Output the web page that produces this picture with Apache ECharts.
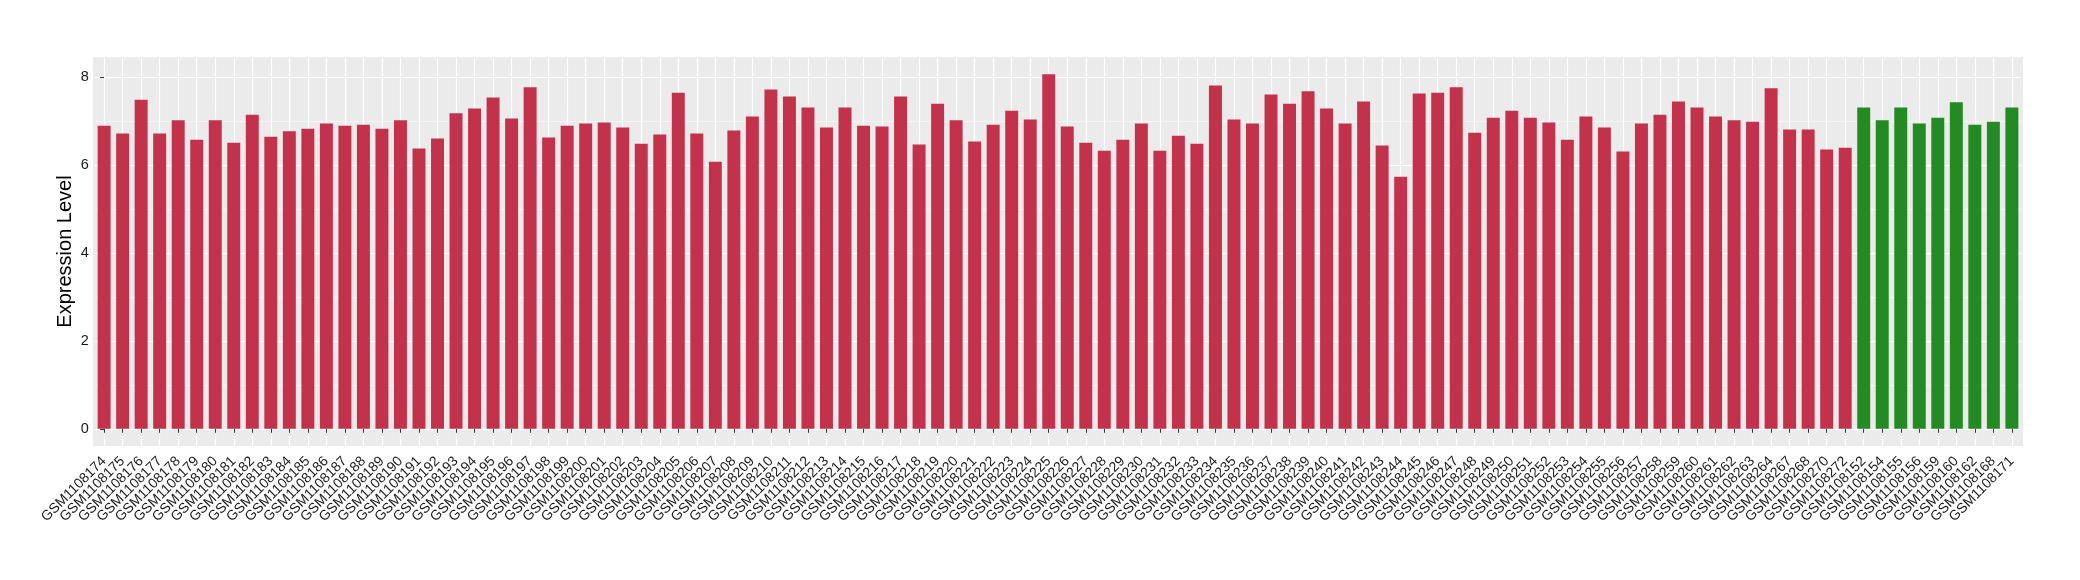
<!DOCTYPE html>
<html>
<head>
<meta charset="utf-8">
<script src="https://cdn.jsdelivr.net/npm/echarts@6/dist/echarts.min.js"></script>
<style>html,body{margin:0;padding:0;background:#fff}#c{width:2080px;height:580px}</style>
</head>
<body>
<div id="c"></div>
<script>
// ---- data ----
const tumorSamples = [
 'GSM1108174','GSM1108175','GSM1108176','GSM1108177','GSM1108178','GSM1108179','GSM1108180','GSM1108181','GSM1108182','GSM1108183',
 'GSM1108184','GSM1108185','GSM1108186','GSM1108187','GSM1108188','GSM1108189','GSM1108190','GSM1108191','GSM1108192','GSM1108193',
 'GSM1108194','GSM1108195','GSM1108196','GSM1108197','GSM1108198','GSM1108199','GSM1108200','GSM1108201','GSM1108202','GSM1108203',
 'GSM1108204','GSM1108205','GSM1108206','GSM1108207','GSM1108208','GSM1108209','GSM1108210','GSM1108211','GSM1108212','GSM1108213',
 'GSM1108214','GSM1108215','GSM1108216','GSM1108217','GSM1108218','GSM1108219','GSM1108220','GSM1108221','GSM1108222','GSM1108223',
 'GSM1108224','GSM1108225','GSM1108226','GSM1108227','GSM1108228','GSM1108229','GSM1108230','GSM1108231','GSM1108232','GSM1108233',
 'GSM1108234','GSM1108235','GSM1108236','GSM1108237','GSM1108238','GSM1108239','GSM1108240','GSM1108241','GSM1108242','GSM1108243',
 'GSM1108244','GSM1108245','GSM1108246','GSM1108247','GSM1108248','GSM1108249','GSM1108250','GSM1108251','GSM1108252','GSM1108253',
 'GSM1108254','GSM1108255','GSM1108256','GSM1108257','GSM1108258','GSM1108259','GSM1108260','GSM1108261','GSM1108262','GSM1108263',
 'GSM1108264','GSM1108267','GSM1108268','GSM1108270','GSM1108272'
];
const tumorValues = [
 6.89,6.71,7.48,6.71,7.01,6.57,7.01,6.50,7.14,6.64,
 6.76,6.82,6.94,6.89,6.91,6.82,7.01,6.37,6.60,7.17,
 7.28,7.53,7.05,7.76,6.62,6.89,6.94,6.96,6.85,6.48,
 6.69,7.64,6.71,6.07,6.78,7.10,7.71,7.55,7.30,6.85,
 7.30,6.89,6.87,7.55,6.46,7.39,7.01,6.53,6.91,7.23,
 7.03,8.06,6.87,6.50,6.32,6.57,6.94,6.32,6.66,6.48,
 7.80,7.03,6.94,7.60,7.39,7.67,7.28,6.94,7.44,6.44,
 5.73,7.62,7.64,7.76,6.73,7.07,7.23,7.07,6.96,6.57,
 7.10,6.85,6.30,6.94,7.14,7.44,7.30,7.10,7.01,6.98,
 7.74,6.80,6.80,6.35,6.39
];
const normalSamples = ['GSM1108152','GSM1108154','GSM1108155','GSM1108156','GSM1108159','GSM1108160','GSM1108162','GSM1108168','GSM1108171'];
const normalValues = [7.30,7.01,7.30,6.94,7.07,7.42,6.91,6.98,7.30];
const yMajorTicks = [0, 2, 4, 6, 8];
const yMinorTicks = [1, 3, 5, 7];
const yTitle = 'Expression Level';
const tumorColor = '#C4314B';
const normalColor = '#228B22';

// ---- build ----
const categories = tumorSamples.concat(normalSamples);
const barData = [];
tumorValues.forEach((v) => barData.push({ value: v, itemStyle: { color: tumorColor } }));
normalValues.forEach((v) => barData.push({ value: v, itemStyle: { color: normalColor } }));
const xPositions = categories.map((_, i) => i);

// panel (ggplot-style, with 0.6 category expansion on each side)
const panel = { left: 93, top: 57, width: 1930, height: 389 };
const step = panel.width / (categories.length - 1 + 1.2);
const inset = 0.1 * step;

const chart = echarts.init(document.getElementById('c'), null, { renderer: 'canvas' });
const font = 'Liberation Sans, Arial, Helvetica, sans-serif';
chart.setOption({
  animation: false,
  graphic: [{
    type: 'rect', z: -10, silent: true,
    shape: { x: panel.left, y: panel.top, width: panel.width, height: panel.height },
    style: { fill: '#EBEBEB' }
  }, {
    type: 'text', silent: true, x: 65, y: panel.top + panel.height / 2, rotation: Math.PI / 2,
    style: { text: yTitle, fontSize: 20, fontFamily: font, fill: '#000', align: 'center', verticalAlign: 'middle' }
  }],
  grid: {
    left: panel.left + inset, right: 2080 - panel.left - panel.width + inset,
    top: panel.top, bottom: 580 - panel.top - panel.height,
    show: false, containLabel: false
  },
  xAxis: [{
    type: 'category', data: categories, boundaryGap: true,
    axisLine: { show: false },
    axisTick: { show: true, alignWithLabel: true, interval: 0, length: 4, lineStyle: { color: '#333333', width: 1 } },
    axisLabel: {
      interval: 0, rotate: 45, margin: 13,
      color: '#1a1a1a', fontSize: 14, fontFamily: font
    },
    splitLine: { show: false }
  }, {
    type: 'value', min: -0.5, max: categories.length - 0.5, position: 'bottom',
    axisLine: { show: false },
    axisTick: { show: false, customValues: xPositions },
    axisLabel: { show: false, customValues: xPositions },
    splitLine: { show: true, lineStyle: { color: '#FFFFFF', width: 1.2 } }
  }],
  yAxis: [{
    type: 'value', min: -0.39, max: 8.45,
    axisLine: { show: false },
    axisTick: { show: true, length: 4, lineStyle: { color: '#333333', width: 1 }, customValues: yMajorTicks },
    axisLabel: { customValues: yMajorTicks, color: '#1a1a1a', fontSize: 14.5, fontFamily: font, margin: 6 },
    splitLine: { show: true, lineStyle: { color: '#FFFFFF', width: 1.2 } }
  }, {
    type: 'value', min: -0.39, max: 8.45, position: 'left',
    axisLine: { show: false },
    axisTick: { show: false, customValues: yMinorTicks },
    axisLabel: { show: false, customValues: yMinorTicks },
    splitLine: { show: true, lineStyle: { color: '#F7F7F7', width: 0.8 } }
  }],
  series: [{
    type: 'bar', data: barData, barWidth: '70%', xAxisIndex: 0, yAxisIndex: 0
  }]
});
</script>
</body>
</html>
